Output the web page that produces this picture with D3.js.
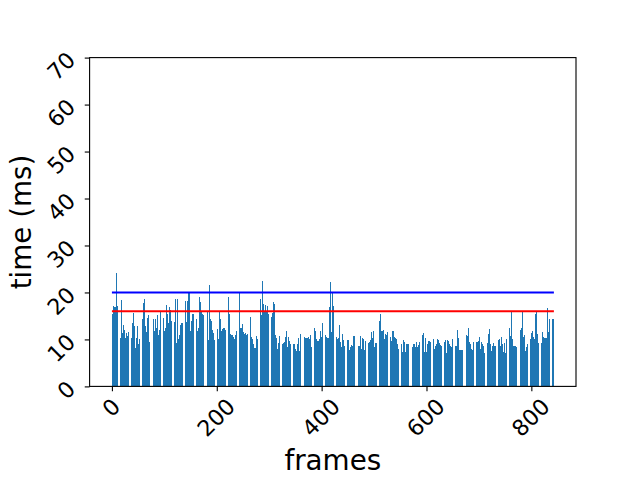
<!DOCTYPE html>
<html><head><meta charset="utf-8">
<script src="https://cdn.jsdelivr.net/npm/d3@7"></script>
<style>body{margin:0;background:#fff}svg{display:block}</style>
</head><body><svg id="c" width="640" height="480"></svg>
<script>
// frame render times (ms), one per frame
const frameTimes = [
15.4,15.4,17.2,17.2,16.5,16.8,19.8,17.0,17.1,24.2,16.8,17.1,14.0,12.0,11.0,10.5,
10.2,10.2,18.3,11.4,11.4,13.0,13.0,16.4,12.0,12.0,10.2,10.2,11.4,11.4,10.8,11.0,11.5,11.8,11.8,
11.8,10.3,10.3,13.6,13.6,15.6,15.6,12.8,12.8,8.2,8.2,10.3,10.3,12.8,12.8,9.0,9.0,9.5,10.0,11.9,
11.9,11.9,14.4,14.4,17.7,17.7,18.6,18.6,12.8,12.8,11.5,11.5,14.5,14.5,15.1,15.1,12.0,9.5,9.0,
9.0,9.0,10.2,10.2,14.3,14.3,11.9,11.9,14.3,14.3,12.4,12.4,15.1,15.1,10.9,10.9,11.0,12.0,14.0,16.0,
16.6,16.6,17.7,17.7,14.5,14.5,11.9,11.9,12.5,12.5,17.3,17.3,15.5,15.5,13.4,13.4,16.9,16.9,16.2,16.2,
14.0,12.4,12.4,9.6,9.6,13.7,13.7,18.6,18.6,9.2,9.2,18.7,18.7,10.0,10.0,11.0,11.0,13.0,13.0,13.4,
13.4,13.4,13.9,13.9,14.3,14.3,18.1,18.1,13.7,13.7,18.1,18.1,20.1,20.1,20.1,11.8,11.8,
12.0,14.0,15.0,15.4,
15.4,15.4,14.8,14.8,12.7,12.7,14.3,14.3,11.9,11.9,12.5,12.5,19.0,19.0,17.9,17.9,15.9,15.9,
15.5,
15.2,15.2,15.6,15.6,17.3,17.3,20.0,20.0,15.9,15.9,9.8,9.8,21.5,21.5,14.3,14.3,14.0,13.0,12.0,11.5,
11.3,11.3,9.8,9.8,15.2,15.2,12.2,12.2,10.0,10.0,15.9,15.9,14.3,14.3,11.8,11.8,12.2,12.2,12.0,12.5,
12.5,12.5,12.1,12.1,10.9,10.9,12.4,12.4,19.0,19.0,15.4,15.4,11.2,11.2,11.0,11.0,11.0,11.0,10.5,10.0,
10.0,10.0,10.9,10.9,11.8,11.8,22.0,22.0,19.8,19.8,12.5,12.5,12.5,12.5,13.2,13.2,12.0,11.5,
11.2,11.2,11.4,11.4,11.0,11.0,11.2,11.2,11.5,11.5,16.6,16.6,14.7,14.7,10.5,10.5,10.0,9.5,9.0,8.5,8.1,
8.1,8.1,10.7,10.7,10.0,10.0,13.4,13.4,13.2,13.2,18.6,18.6,15.2,15.2,22.4,22.4,17.5,17.0,16.0,16.5,
17.3,17.3,15.9,15.9,17.1,17.1,15.4,15.4,18.6,18.6,14.8,14.8,15.6,15.6,17.9,17.9,17.5,17.5,
14.0,11.0,
10.2,10.2,8.0,8.0,9.2,9.2,10.7,10.7,10.7,10.7,9.2,9.2,9.1,9.1,9.2,9.2,9.5,
10.0,10.5,11.0,
11.9,11.9,8.4,8.4,10.5,10.5,9.6,9.6,9.1,9.1,9.5,9.5,9.0,9.0,9.0,9.0,8.5,
8.0,7.8,
7.5,7.5,9.0,9.0,10.2,10.2,7.5,7.5,11.2,11.2,8.8,8.8,10.5,10.5,10.5,10.5,10.0,
10.3,10.4,10.4,10.3,
10.4,10.4,10.5,10.5,10.0,10.0,10.9,10.9,8.4,8.4,8.5,8.5,12.5,12.5,11.8,11.8,11.0,10.0,
9.6,9.6,9.7,9.7,10.0,10.0,11.9,11.9,10.5,10.5,13.5,13.5,14.8,14.8,12.7,12.7,10.9,10.9,
10.5,10.3,10.2,
10.2,10.2,16.9,16.9,22.3,22.3,11.5,11.5,19.8,19.8,17.1,17.1,8.7,8.7,11.1,11.1,10.5,10.2,10.0,10.0,
10.2,10.2,13.0,13.0,9.5,9.5,8.4,8.4,11.1,11.1,9.8,9.8,8.5,8.5,9.0,9.5,9.8,
9.8,
9.8,9.8,7.7,7.7,8.3,8.3,8.9,8.9,8.7,8.7,10.7,10.7,10.7,10.7,9.8,9.8,7.7,7.7,
8.0,8.3,8.5,
8.5,8.5,10.7,10.7,8.0,8.0,10.2,10.2,10.0,10.0,7.7,7.7,9.7,9.7,7.7,7.7,8.5,9.0,
9.3,
9.4,9.4,9.8,9.8,11.5,11.5,10.2,10.2,11.9,11.9,8.4,8.4,9.2,9.2,9.2,9.2,10.0,
11.0,12.0,13.0,14.0,
15.4,15.4,11.8,11.8,11.9,11.9,12.1,12.1,10.0,10.0,11.2,11.2,10.9,10.9,11.5,11.5,11.0,10.8,10.6,
10.5,10.5,9.7,9.7,11.8,11.8,11.9,11.9,10.5,10.5,10.2,10.2,10.0,10.0,9.0,9.0,8.5,8.0,7.5,
7.3,7.3,9.0,9.0,7.3,7.3,9.8,9.8,9.5,9.5,7.3,7.3,9.1,9.1,9.0,9.0,9.0,9.0,9.2,9.5,9.6,
9.8,9.8,8.3,8.3,9.0,9.0,9.0,9.0,8.3,8.3,9.4,9.4,8.4,8.4,8.9,8.9,9.2,9.5,
9.8,9.8,9.1,9.1,10.9,10.9,11.4,11.4,7.3,7.3,10.4,10.4,7.3,7.3,9.0,9.5,9.6,9.7,9.6,9.6,
9.5,9.5,9.5,9.5,10.0,10.0,8.0,8.0,8.7,8.7,9.0,9.0,10.1,10.1,9.8,9.8,9.5,9.2,9.0,8.8,
8.7,8.7,8.7,8.7,7.1,7.1,9.5,9.5,9.8,9.8,7.1,7.1,9.8,9.8,9.6,9.6,9.0,8.5,8.5,8.5,
8.4,8.4,10.1,10.1,8.3,8.3,8.7,8.7,8.7,8.7,12.0,12.0,10.2,10.2,7.7,7.7,7.7,7.7,7.7,7.7,
7.7,7.7,10.7,10.7,10.5,10.5,8.5,8.5,11.0,11.0,10.7,10.7,12.4,12.4,9.5,9.5,9.0,8.5,8.0,7.7,
7.7,7.7,9.5,9.5,10.5,10.5,9.5,9.5,9.5,9.5,9.6,9.6,10.5,10.5,8.0,8.0,9.5,9.5,9.0,
9.0,9.0,8.7,8.7,7.1,7.1,9.4,9.4,9.2,9.2,11.1,11.1,12.2,12.2,9.0,9.0,7.5,7.5,8.0,8.5,9.0,
9.2,9.2,8.7,8.7,8.7,8.7,9.5,9.5,9.8,9.8,10.0,10.0,8.7,8.7,10.5,10.5,10.0,9.0,8.0,
7.3,7.3,9.2,9.2,7.1,7.1,10.0,10.0,10.2,10.2,12.4,12.4,10.7,10.7,15.9,15.9,12.0,10.0,9.0,8.5,8.5,
8.5,8.5,8.5,8.5,8.3,8.3,9.8,9.8,10.0,10.0,12.1,12.1,12.4,12.4,15.9,15.9,13.0,10.5,10.1,
10.9,10.9,7.5,7.5,8.4,8.4,9.0,9.0,16.4,16.4,10.0,10.0,11.3,11.3,11.9,11.9,11.0,10.5,10.0,
10.0,10.0,15.4,15.4,16.0,16.0,11.1,11.1,9.2,9.2,9.8,9.8,9.2,9.2,11.5,11.5,11.0,10.5,10.4,10.4,
10.4,10.4,10.2,10.2,16.6,16.6,11.5,11.5,14.4,14.4,15.2,15.2,14.6,14.6,14.3,14.3,14.3
];
const thresholdValues = [16, 20];           // red, blue reference lines (ms)
const yTickValues = [0, 10, 20, 30, 40, 50, 60, 70];
const xTickValues = [0, 200, 400, 600, 800];
const xLabelText = "frames";
const yLabelText = "time (ms)";

// ---- layout / style ----
const L = 89.6, R = 576, T = 57.6, B = 386.4;
const fs = 22.2, fsL = 27.78, A = 0.76, D = 0.208;
const tickLen = 4.86, pad = 4.86, labelPad = 8;
const lineColors = ["#ff0000", "#0000ff"];
const font = "DejaVu Sans, sans-serif";
const n = frameTimes.length;

const lo = -0.4, hi = Math.max(n - 1 + 0.4, n);
const m = 0.05 * (hi - lo);
const x = d3.scaleLinear().domain([lo - m, hi + m]).range([L, R]);
const y = d3.scaleLinear().domain([0, 70]).range([B, T]);

const svg = d3.select("#c");

// bars (pixel-snapped like Agg)
svg.append("g").selectAll("rect").data(frameTimes).join("rect")
  .attr("x", (d, i) => Math.round(x(i - 0.4)))
  .attr("width", (d, i) => Math.round(x(i + 0.4)) - Math.round(x(i - 0.4)))
  .attr("y", d => Math.round(y(d)))
  .attr("height", d => Math.round(y(0)) - Math.round(y(d)))
  .attr("fill", "#1f77b4")
  .attr("shape-rendering", "crispEdges");

// threshold lines
svg.append("g").selectAll("line").data(thresholdValues).join("line")
  .attr("x1", x(0)).attr("x2", x(n))
  .attr("y1", d => y(d)).attr("y2", d => y(d))
  .attr("stroke", (d, i) => lineColors[i])
  .attr("stroke-width", 2.08);

// spines
svg.append("rect").attr("x", L).attr("y", T).attr("width", R - L).attr("height", B - T)
  .attr("fill", "none").attr("stroke", "#000").attr("stroke-width", 1.11);

// x axis
const xAxis = svg.append("g").attr("transform", `translate(0,${B})`)
  .call(d3.axisBottom(x).tickValues(xTickValues).tickSize(tickLen).tickSizeOuter(0).tickFormat(d3.format("d")));
xAxis.select(".domain").remove();
xAxis.attr("font-size", fs).attr("font-family", font);
xAxis.selectAll("line").attr("stroke", "#000").attr("stroke-width", 1.11);
let xBottom = 0;
xAxis.selectAll("text").each(function () {
  const t = d3.select(this).attr("fill", "#000");
  const w = this.getComputedTextLength();
  const hr = 0.7071 * (w + (A + D) * fs);
  xBottom = Math.max(xBottom, tickLen + pad + hr);
  t.attr("dy", null).attr("x", 0).attr("y", (A - D) / 2 * fs)
   .attr("text-anchor", "middle")
   .attr("transform", `translate(0,${tickLen + pad + hr / 2}) rotate(-45)`);
});

// y axis
const yAxis = svg.append("g").attr("transform", `translate(${L},0)`)
  .call(d3.axisLeft(y).tickValues(yTickValues).tickSize(tickLen).tickSizeOuter(0).tickFormat(d3.format("d")));
yAxis.select(".domain").remove();
yAxis.attr("font-size", fs).attr("font-family", font);
yAxis.selectAll("line").attr("stroke", "#000").attr("stroke-width", 1.11);
let yLeft = 0;
yAxis.selectAll("text").each(function () {
  const t = d3.select(this).attr("fill", "#000");
  const w = this.getComputedTextLength();
  const wr = 0.7071 * (w + (A + D) * fs);
  const cx = -(tickLen + pad) - wr / 2;
  const cy = -A * fs / 2 + wr / 2;
  yLeft = Math.min(yLeft, -(tickLen + pad) - wr);
  t.attr("dy", null).attr("x", 0).attr("y", (A - D) / 2 * fs)
   .attr("text-anchor", "middle")
   .attr("transform", `translate(${cx},${cy}) rotate(-45)`);
});

// axis labels
svg.append("text").text(xLabelText)
  .attr("x", (L + R) / 2).attr("y", B + xBottom + labelPad + A * fsL)
  .attr("text-anchor", "middle").attr("font-size", fsL).attr("font-family", font);
svg.append("text").text(yLabelText)
  .attr("text-anchor", "middle").attr("font-size", fsL).attr("font-family", font)
  .attr("transform", `translate(${L + yLeft - labelPad - D * fsL},${(T + B) / 2}) rotate(-90)`);
</script></body></html>
